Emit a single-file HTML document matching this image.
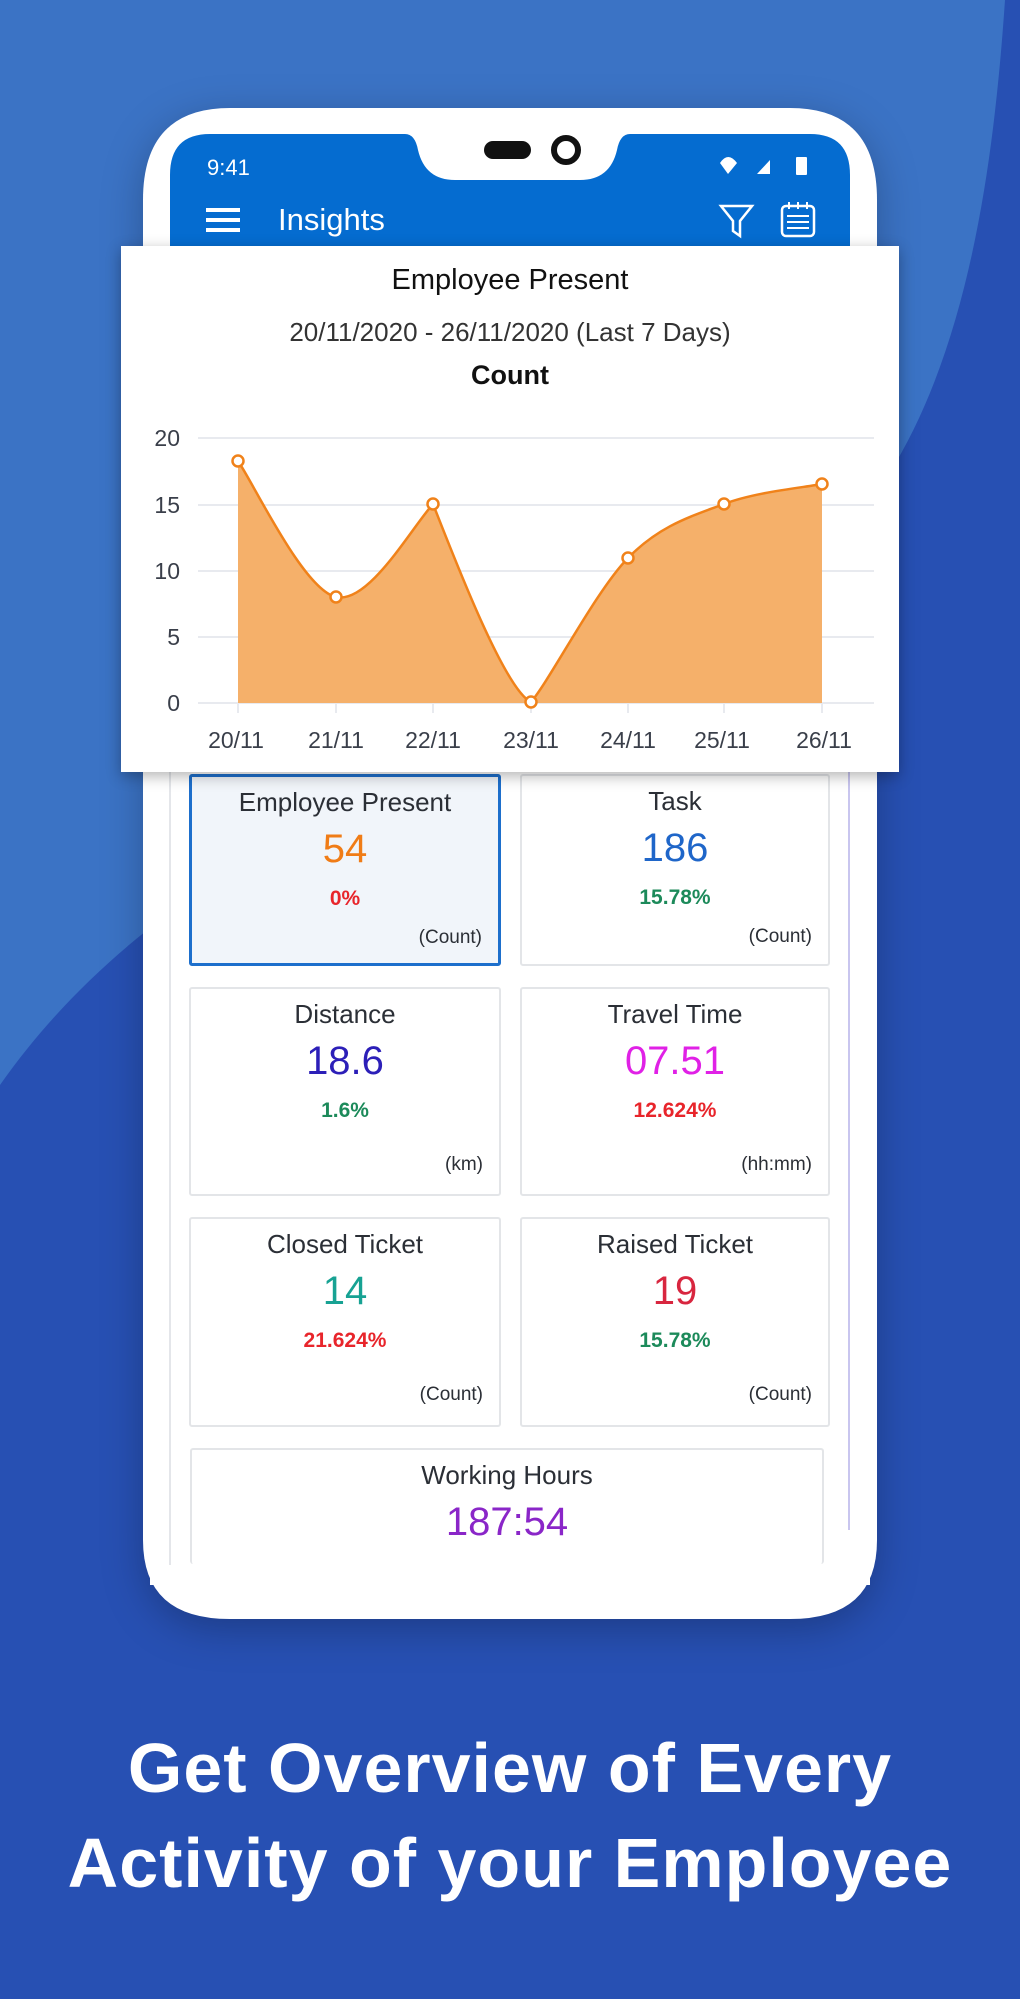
<!DOCTYPE html>
<html><head><meta charset="utf-8"><style>
html,body{margin:0;padding:0}
body{width:1020px;height:1999px;position:relative;overflow:hidden;font-family:"Liberation Sans",sans-serif;background:#2750b3}
.a{position:absolute}
.card{position:absolute;background:#fff;border:2px solid #e3e5e8;border-radius:3px;box-sizing:border-box;text-align:center;color:#2b2f36}
.card .t{position:absolute;left:0;right:0;top:10px;font-size:26px}
.card .v{position:absolute;left:0;right:0;top:50px;font-size:40px}
.card .p{position:absolute;left:0;right:0;top:110px;font-size:21px;font-weight:bold}
.card .u{position:absolute;right:16px;top:150px;font-size:19px}
.big{position:absolute;left:0;width:1020px;text-align:center;color:#fff;font-weight:bold;font-size:70px;letter-spacing:1px}
</style></head><body>
<svg class="a" style="left:0;top:0" width="1020" height="1999">
<path d="M0 0 H1005 C990 220 950 470 790 580 C560 740 200 800 0 1085 Z" fill="#3b73c5"/>
<path d="M230 108 H790 Q877 108 877 200 V1540 Q877 1619 790 1619 H230 Q143 1619 143 1540 V200 Q143 108 230 108 Z" fill="#fff" filter="drop-shadow(0 10px 20px rgba(0,0,0,0.25))"/>
<path d="M210 134 H405 Q415 134 418 150 Q425 180 455 180 H580 Q610 180 617 150 Q620 134 630 134 H810 Q850 134 850 175 V250 H170 V175 Q170 134 210 134 Z" fill="#056cd0"/>
<line x1="170" y1="250" x2="170" y2="1565" stroke="#e4e6ea" stroke-width="2"/>
<line x1="849" y1="250" x2="849" y2="1530" stroke="#c9c6ef" stroke-width="2"/>
<rect x="484" y="141" width="47" height="18" rx="9" fill="#111"/>
<circle cx="566" cy="150" r="12" fill="none" stroke="#111" stroke-width="6"/>
<text x="207" y="175" fill="#fff" font-size="22" font-family="Liberation Sans">9:41</text>
<path d="M720 163 Q728 151 737 163 L728 174 Z" fill="#fff"/>
<path d="M757 174 L770 160 L770 174 Z" fill="#fff"/>
<rect x="796" y="157" width="11" height="18" rx="1" fill="#fff"/>
<rect x="206" y="208" width="34" height="4" fill="#fff"/><rect x="206" y="218" width="34" height="4" fill="#fff"/><rect x="206" y="228" width="34" height="4" fill="#fff"/>
<text x="278" y="230" fill="#fff" font-size="31" font-family="Liberation Sans">Insights</text>
<path d="M721 206 H752 L740 221 V236 L733 231 V221 Z" fill="none" stroke="#fff" stroke-width="2.5"/>
<rect x="782" y="206" width="32" height="30" rx="4" fill="none" stroke="#fff" stroke-width="2.5"/>
<g fill="#fff"><rect x="787" y="215" width="22" height="2"/><rect x="787" y="221" width="22" height="2"/><rect x="787" y="227" width="22" height="2"/><rect x="788" y="202" width="2" height="7"/><rect x="797" y="202" width="2" height="7"/><rect x="806" y="202" width="2" height="7"/></g>
</svg>

<div class="card" style="left:189px;top:774px;width:312px;height:192px;background:#f1f5fa;border:3px solid #1d6fcc"><div class="t">Employee Present</div><div class="v" style="color:#f07c16">54</div><div class="p" style="color:#e8252b">0%</div><div class="u">(Count)</div></div>
<div class="card" style="left:520px;top:774px;width:310px;height:192px"><div class="t">Task</div><div class="v" style="color:#1f66c9">186</div><div class="p" style="color:#1c8a5a">15.78%</div><div class="u">(Count)</div></div>
<div class="card" style="left:189px;top:987px;width:312px;height:209px"><div class="t">Distance</div><div class="v" style="color:#2c1fb8">18.6</div><div class="p" style="color:#1c8a5a">1.6%</div><div class="u" style="top:165px">(km)</div></div>
<div class="card" style="left:520px;top:987px;width:310px;height:209px"><div class="t">Travel Time</div><div class="v" style="color:#e021e6">07.51</div><div class="p" style="color:#e8252b">12.624%</div><div class="u" style="top:165px">(hh:mm)</div></div>
<div class="card" style="left:189px;top:1217px;width:312px;height:210px"><div class="t">Closed Ticket</div><div class="v" style="color:#17a293">14</div><div class="p" style="color:#e8252b">21.624%</div><div class="u" style="top:165px">(Count)</div></div>
<div class="card" style="left:520px;top:1217px;width:310px;height:210px"><div class="t">Raised Ticket</div><div class="v" style="color:#d8263f">19</div><div class="p" style="color:#1c8a5a">15.78%</div><div class="u" style="top:165px">(Count)</div></div>
<div class="card" style="left:190px;top:1448px;width:634px;height:116px;border-bottom:none"><div class="t">Working Hours</div><div class="v" style="color:#8a26c8">187:54</div></div>
<div class="a" style="left:150px;top:1565px;width:720px;height:20px;background:#fff"></div>

<div class="a" style="left:121px;top:246px;width:778px;height:526px;background:#fff;box-shadow:0 4px 14px rgba(0,0,0,0.3)"></div>
<div class="a" style="left:121px;top:264px;width:778px;text-align:center;font-size:29px;color:#111">Employee Present</div>
<div class="a" style="left:121px;top:317px;width:778px;text-align:center;font-size:26px;color:#333">20/11/2020 - 26/11/2020 (Last 7 Days)</div>
<div class="a" style="left:121px;top:360px;width:778px;text-align:center;font-size:27px;font-weight:bold;color:#111">Count</div>
<svg class="a" style="left:0;top:0" width="1020" height="800" font-family="Liberation Sans">
<g stroke="#e8eaef" stroke-width="2"><line x1="198" y1="438" x2="874" y2="438"/><line x1="198" y1="505" x2="874" y2="505"/><line x1="198" y1="571" x2="874" y2="571"/><line x1="198" y1="637" x2="874" y2="637"/><line x1="198" y1="703" x2="874" y2="703"/></g>
<g stroke="#e8eaef" stroke-width="2"><line x1="238" y1="703" x2="238" y2="713"/><line x1="336" y1="703" x2="336" y2="713"/><line x1="433" y1="703" x2="433" y2="713"/><line x1="531" y1="703" x2="531" y2="713"/><line x1="628" y1="703" x2="628" y2="713"/><line x1="724" y1="703" x2="724" y2="713"/><line x1="822" y1="703" x2="822" y2="713"/></g>
<g fill="#3a3f4a" font-size="23" text-anchor="end"><text x="180" y="446">20</text><text x="180" y="513">15</text><text x="180" y="579">10</text><text x="180" y="645">5</text><text x="180" y="711">0</text></g>
<path d="M238 461 C254 484 303.5 589.8 336 597 C368.5 604.2 410 530 433 504 C455 560 505 690 531 702 C550 680 595.8 591 628 558 C660.2 525 691.7 516.3 724 504 C756.3 491.7 805.7 487.3 822 484 L822 703 L238 703 Z" fill="#f5b06a"/>
<path d="M238 461 C254 484 303.5 589.8 336 597 C368.5 604.2 410 530 433 504 C455 560 505 690 531 702 C550 680 595.8 591 628 558 C660.2 525 691.7 516.3 724 504 C756.3 491.7 805.7 487.3 822 484" fill="none" stroke="#f0821a" stroke-width="2.5"/>
<g fill="#fff" stroke="#f0821a" stroke-width="2.5"><circle cx="238" cy="461" r="5.5"/><circle cx="336" cy="597" r="5.5"/><circle cx="433" cy="504" r="5.5"/><circle cx="531" cy="702" r="5.5"/><circle cx="628" cy="558" r="5.5"/><circle cx="724" cy="504" r="5.5"/><circle cx="822" cy="484" r="5.5"/></g>
<g fill="#3a3f4a" font-size="23" text-anchor="middle"><text x="236" y="748">20/11</text><text x="336" y="748">21/11</text><text x="433" y="748">22/11</text><text x="531" y="748">23/11</text><text x="628" y="748">24/11</text><text x="722" y="748">25/11</text><text x="824" y="748">26/11</text></g>
</svg>

<div class="big" style="top:1728px">Get Overview of Every</div>
<div class="big" style="top:1823px">Activity of your Employee</div>
</body></html>
